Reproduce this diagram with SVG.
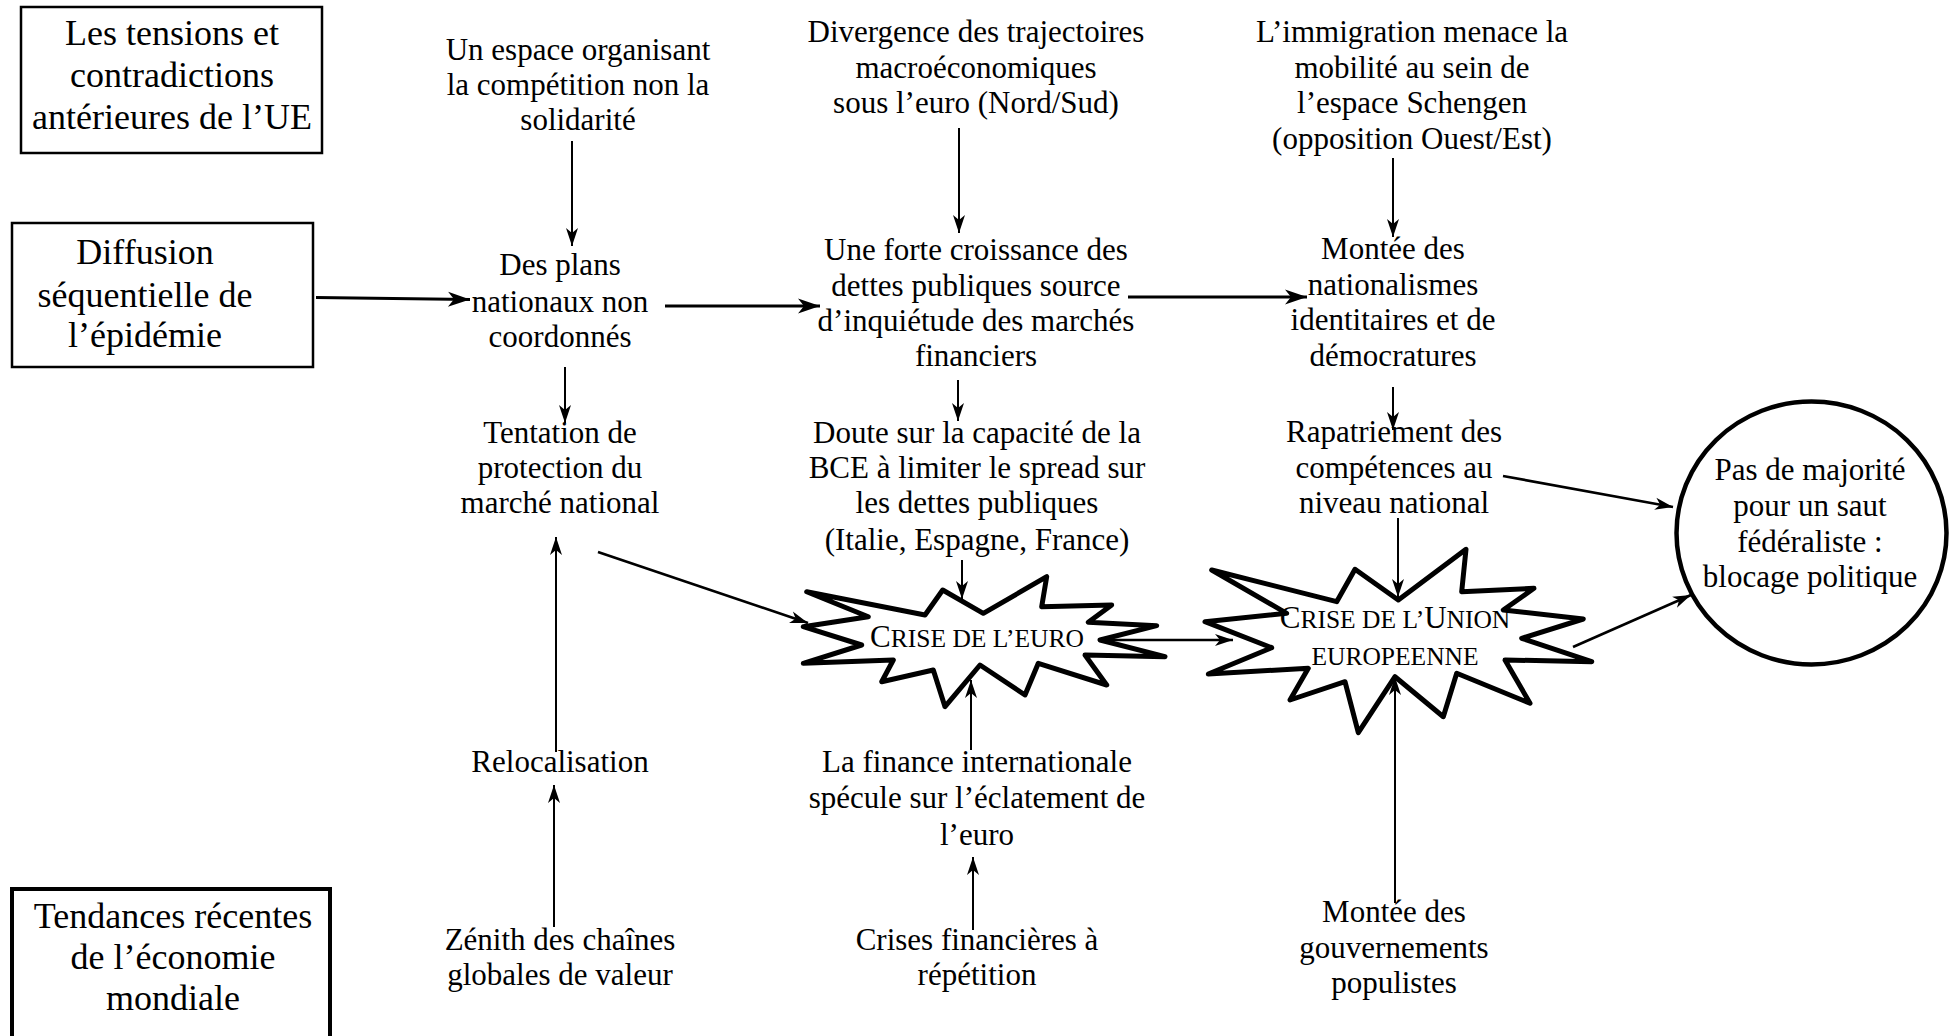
<svg xmlns="http://www.w3.org/2000/svg" width="1951" height="1036" viewBox="0 0 1951 1036">
<style>
text{font-family:"Liberation Serif","Times New Roman",serif;fill:#000;text-anchor:middle}
.n{font-size:31px}
.b{font-size:36px}
.sc{font-size:25.5px}
.cap{font-size:31px}
.box{fill:#fff;stroke:#000;stroke-width:2.5}
.star{fill:#fff;stroke:#000;stroke-width:5;stroke-linejoin:round}
.c1{fill:none;stroke:#000;stroke-width:2;marker-end:url(#ah)}
.c2{fill:none;stroke:#000;stroke-width:2.6;marker-end:url(#ah)}
.c3{fill:none;stroke:#000;stroke-width:3.2;marker-end:url(#ahb)}
</style>
<defs>
<marker id="ah" markerUnits="userSpaceOnUse" markerWidth="30" markerHeight="20" refX="18" refY="0" viewBox="-2 -10 22 20" orient="auto" overflow="visible">
<path d="M0,-6 L18,0 L0,6 L5,0 Z" fill="#000"/>
</marker>
<marker id="ahb" markerUnits="userSpaceOnUse" markerWidth="30" markerHeight="20" refX="22" refY="0" viewBox="-2 -10 26 20" orient="auto" overflow="visible">
<path d="M0,-7.5 L22,0 L0,7.5 L6,0 Z" fill="#000"/>
</marker>
</defs>
<rect width="1951" height="1036" fill="#fff"/>

<g id="box-tensions">
<rect class="box" x="21" y="7" width="301" height="146"/>
<text class="b" x="172" y="45">Les tensions et</text>
<text class="b" x="172" y="87">contradictions</text>
<text class="b" x="172" y="128.5">antérieures de l’UE</text>
</g>

<g id="box-diffusion">
<rect class="box" x="12" y="223" width="301" height="144"/>
<text class="b" x="145" y="263.5">Diffusion</text>
<text class="b" x="145" y="306.5">séquentielle de</text>
<text class="b" x="145" y="347">l’épidémie</text>
</g>

<g id="box-tendances">
<rect class="box" x="12" y="889" width="318" height="160" style="stroke-width:4"/>
<text class="b" x="173" y="928">Tendances récentes</text>
<text class="b" x="173" y="968.5">de l’économie</text>
<text class="b" x="173" y="1010">mondiale</text>
</g>

<g id="star-euro">
<polygon class="star" points="806.7,591.7 925,615 942.7,590 983.3,613.3 1046.7,576.7 1041.7,606.7 1111.7,605 1088.3,622.3 1156.7,625.7 1100,640 1165,656.7 1085,655 1106.7,685 1038.3,663.3 1025,695 980,665 945,706.7 933.3,670 881.7,681.7 893.3,660 803.3,663.3 861.7,645 803.3,626.7 868.3,616.7"/>
</g>

<g id="star-union">
<polygon class="star" points="1211.7,570 1336.7,601.7 1355,569.3 1398.3,600 1466,549.3 1461.7,591.7 1534,588.3 1503.3,610 1583.3,619 1521.7,638.3 1591.7,661.7 1505,660 1530,703.3 1456.7,673.3 1443.3,716.7 1395,676.7 1358.3,732.7 1345,681.7 1290,700 1308.3,668.3 1208.3,674 1271.7,647.7 1205,621.7 1286.7,613.3"/>
</g>

<g id="connectors">
<line class="c1" x1="572" y1="141" x2="572" y2="246"/>
<line class="c1" x1="959" y1="128" x2="959" y2="233"/>
<line class="c1" x1="1393" y1="158" x2="1393" y2="237"/>
<line class="c3" x1="316" y1="297.5" x2="470" y2="299.5"/>
<line class="c3" x1="665" y1="306" x2="820" y2="306"/>
<line class="c3" x1="1128" y1="297" x2="1307" y2="297"/>
<line class="c1" x1="565" y1="367" x2="565" y2="423"/>
<line class="c1" x1="958" y1="380" x2="958" y2="421"/>
<line class="c1" x1="1393" y1="387" x2="1393" y2="430"/>
<line class="c2" x1="598" y1="552" x2="808" y2="623"/>
<line class="c1" x1="962" y1="560" x2="962" y2="599"/>
<line class="c2" x1="1100" y1="640" x2="1233" y2="640"/>
<line class="c1" x1="1398" y1="518" x2="1398" y2="597"/>
<line class="c2" x1="1503" y1="476" x2="1673" y2="507"/>
<line class="c2" x1="1573" y1="647" x2="1691" y2="595"/>
<line class="c1" x1="556" y1="752" x2="556" y2="537"/>
<line class="c1" x1="554" y1="927" x2="554" y2="785"/>
<line class="c1" x1="971" y1="750" x2="971" y2="680"/>
<line class="c1" x1="973" y1="930" x2="973" y2="857"/>
<line class="c1" x1="1395" y1="903" x2="1395" y2="677"/>
</g>

<g id="label-euro">
<text x="977" y="646.7"><tspan class="cap">C</tspan><tspan class="sc">RISE DE L’EURO</tspan></text>
</g>
<g id="label-union">
<text x="1395" y="628.3"><tspan class="cap">C</tspan><tspan class="sc">RISE DE L’</tspan><tspan class="cap">U</tspan><tspan class="sc">NION</tspan></text>
<text class="sc" x="1395" y="665">EUROPEENNE</text>
</g>

<g id="node-competition">
<text class="n" x="578" y="60">Un espace organisant</text>
<text class="n" x="578" y="95">la compétition non la</text>
<text class="n" x="578" y="130">solidarité</text>
</g>

<g id="node-divergence">
<text class="n" x="976" y="42">Divergence des trajectoires</text>
<text class="n" x="976" y="78">macroéconomiques</text>
<text class="n" x="976" y="113">sous l’euro (Nord/Sud)</text>
</g>

<g id="node-immigration">
<text class="n" x="1412" y="42">L’immigration menace la</text>
<text class="n" x="1412" y="78">mobilité au sein de</text>
<text class="n" x="1412" y="113">l’espace Schengen</text>
<text class="n" x="1412" y="148.5">(opposition Ouest/Est)</text>
</g>

<g id="node-plans">
<text class="n" x="560" y="275">Des plans</text>
<text class="n" x="560" y="311.5">nationaux non</text>
<text class="n" x="560" y="347">coordonnés</text>
</g>

<g id="node-dettes">
<text class="n" x="976" y="260">Une forte croissance des</text>
<text class="n" x="976" y="296">dettes publiques source</text>
<text class="n" x="976" y="331">d’inquiétude des marchés</text>
<text class="n" x="976" y="366">financiers</text>
</g>

<g id="node-nationalismes">
<text class="n" x="1393" y="259">Montée des</text>
<text class="n" x="1393" y="295">nationalismes</text>
<text class="n" x="1393" y="330">identitaires et de</text>
<text class="n" x="1393" y="366">démocratures</text>
</g>

<g id="node-tentation">
<text class="n" x="560" y="443">Tentation de</text>
<text class="n" x="560" y="478">protection du</text>
<text class="n" x="560" y="513">marché national</text>
</g>

<g id="node-doute">
<text class="n" x="977" y="443">Doute sur la capacité de la</text>
<text class="n" x="977" y="478">BCE à limiter le spread sur</text>
<text class="n" x="977" y="513">les dettes publiques</text>
<text class="n" x="977" y="550">(Italie, Espagne, France)</text>
</g>

<g id="node-rapatriement">
<text class="n" x="1394" y="442">Rapatriement des</text>
<text class="n" x="1394" y="478">compétences au</text>
<text class="n" x="1394" y="513">niveau national</text>
</g>

<g id="node-blocage">
<ellipse cx="1811.5" cy="533" rx="135" ry="131.5" fill="#fff" stroke="#000" stroke-width="4.5"/>
<text class="n" x="1810" y="480">Pas de majorité</text>
<text class="n" x="1810" y="515.5">pour un saut</text>
<text class="n" x="1810" y="551.5">fédéraliste :</text>
<text class="n" x="1810" y="587">blocage politique</text>
</g>

<g id="node-relocalisation">
<text class="n" x="560" y="772">Relocalisation</text>
</g>

<g id="node-finance">
<text class="n" x="977" y="772">La finance internationale</text>
<text class="n" x="977" y="808">spécule sur l’éclatement de</text>
<text class="n" x="977" y="845">l’euro</text>
</g>

<g id="node-zenith">
<text class="n" x="560" y="950">Zénith des chaînes</text>
<text class="n" x="560" y="985">globales de valeur</text>
</g>

<g id="node-crises">
<text class="n" x="977" y="950">Crises financières à</text>
<text class="n" x="977" y="985">répétition</text>
</g>

<g id="node-populistes">
<text class="n" x="1394" y="922">Montée des</text>
<text class="n" x="1394" y="958">gouvernements</text>
<text class="n" x="1394" y="993">populistes</text>
</g>
</svg>
